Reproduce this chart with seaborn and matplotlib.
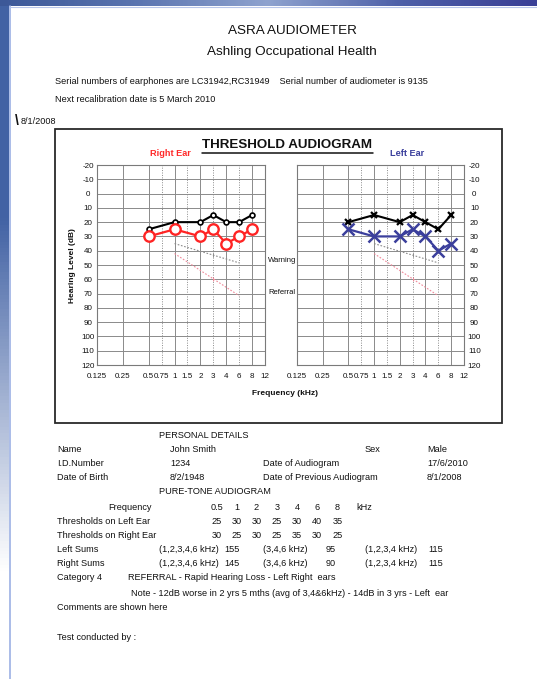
import numpy as np
import matplotlib
matplotlib.use("Agg")
import matplotlib.pyplot as plt
from matplotlib.patches import Rectangle
from matplotlib.colors import LinearSegmentedColormap, to_rgb
import seaborn as sns

# thresholds in dB HL at each test frequency (kHz)
freqs = [0.5, 1, 2, 3, 4, 6, 8]
right_now = [30, 25, 30, 25, 35, 30, 25]
right_prev = [25, 20, 20, 15, 20, 20, 15]
left_now = [25, 30, 30, 25, 30, 40, 35]
left_prev = [20, 15, 20, 15, 20, 25, 15]

# warning / referral limits (same on both ears)
limit_freqs = [1, 6]
warning_db = [35, 48.5]
referral_db = [42, 71.5]
mark_freq = [3]
warning_mark = [43]
referral_mark = [59.5]

octave_ticks = [0.125, 0.25, 0.5, 1, 2, 4, 8]
half_ticks = [0.75, 1.5, 3, 6, 12]
db_ticks = list(range(-20, 130, 10))

# audiometer x axis: octaves with half-octave steps in between
scale_freqs = [2.0 ** -20, 0.125, 0.25, 0.5, 0.75, 1, 1.5, 2, 3, 4, 6, 8, 12, 2.0 ** 20]
scale_pos = [-17, 0, 1, 2, 2.5, 3, 3.5, 4, 4.5, 5, 5.5, 6, 6.5, 22.9]
log_sf = np.log2(scale_freqs)


def to_pos(f):
    f = np.clip(np.asarray(f, dtype=float), 2.0 ** -20, 2.0 ** 20)
    return np.interp(np.log2(f), log_sf, scale_pos)


def from_pos(p):
    return 2.0 ** np.interp(np.asarray(p, dtype=float), scale_pos, log_sf)


sns.set_theme(style="white")
plt.rcParams['font.family'] = ['Liberation Sans', 'DejaVu Sans']
plt.rcParams['text.color'] = '#111111'

W, H = 537, 679
fig = plt.figure(figsize=(W / 100, H / 100), dpi=100)
fig.patch.set_facecolor('white')


def put(x, y, s, **kw):
    kw.setdefault('va', 'center')
    kw.setdefault('fontsize', 6.6)
    fig.text(x / W, 1 - y / H, s, **kw)


def ax_rect(x0, y0, x1, y1):
    return [x0 / W, 1 - y1 / H, (x1 - x0) / W, (y1 - y0) / H]


# page border (blue slide edge)
bg = fig.add_axes([0, 0, 1, 1], zorder=-5)
bg.set_xlim(0, W)
bg.set_ylim(H, 0)
bg.axis('off')
top_cmap = LinearSegmentedColormap.from_list(
    'top', ['#3c5898', '#5a74b0', '#8fa3cf', '#4d5fa8', '#3a3f96'])
bg.imshow(np.linspace(0, 1, 200)[None, :], cmap=top_cmap, aspect='auto',
          extent=(0, W, 6, 0))
side = np.ones((200, 1, 4))
side[:, 0, :3] = to_rgb('#4262a4')
side[:, 0, 3] = np.clip(np.linspace(1.6, -0.3, 200), 0, 1)
bg.imshow(side, aspect='auto', extent=(0, 9, H, 6))
bg.plot([9.5, 9.5], [6, H], color='#9cb0e4', lw=1.2)
bg.plot([9.5, W], [6.5, 6.5], color='#b8c6ea', lw=0.8)

# header
put(292, 31, "ASRA AUDIOMETER", ha='center', fontsize=9.7)
put(292, 52, "Ashling Occupational Health", ha='center', fontsize=9.7)
put(55, 82, "Serial numbers of earphones are LC31942,RC31949    Serial number of audiometer is 9135")
put(55, 99, "Next recalibration date is 5 March 2010")
put(15, 121, "\\", fontsize=10, fontweight='bold')
put(21, 121, "8/1/2008")

# chart frame
fig.add_artist(Rectangle((55 / W, 1 - 423 / H), (502 - 55) / W, (423 - 129) / H,
                         transform=fig.transFigure, fill=False, ec='#2a2a2a', lw=1.3))

put(287.5, 145.5, "THRESHOLD AUDIOGRAM", ha='center', fontsize=9.6,
    fontweight='bold')
fig.add_artist(plt.Line2D([202 / W, 373 / W], [1 - 153 / H, 1 - 153 / H],
                          color='#111111', lw=1.1))
put(170, 154, "Right Ear", ha='center', fontsize=6.6, fontweight='bold', color='#ff2a2a')
put(407, 154, "Left Ear", ha='center', fontsize=6.6, fontweight='bold', color='#3b3f9c')

ax_r = fig.add_axes(ax_rect(97, 165, 265, 365))
ax_l = fig.add_axes(ax_rect(297, 165, 464, 365))

panels = [
    (ax_r, right_now, right_prev, '#ff2424', 'o', 'left'),
    (ax_l, left_now, left_prev, '#3b3f9c', 'x', 'right'),
]

for ax, now, prev, col, mk, yside in panels:
    sns.lineplot(x=limit_freqs, y=warning_db, ax=ax, color='#8c8c8c', lw=0.8,
                 ls=(0, (1.5, 1.5)), estimator=None, sort=False)
    sns.lineplot(x=limit_freqs, y=referral_db, ax=ax, color='#f08a9a', lw=0.8,
                 ls=(0, (1.5, 1.5)), estimator=None, sort=False)
    ax.plot(mark_freq, warning_mark, marker='|', ms=3, mew=0.7, color='#8c8c8c', ls='none')
    ax.plot(mark_freq, referral_mark, marker='|', ms=3, mew=0.7, color='#f08a9a', ls='none')

    if mk == 'o':
        sns.lineplot(x=freqs, y=prev, ax=ax, color='black', lw=1.5, marker='o',
                     ms=3.5, mfc='white', mec='black', mew=1.2,
                     estimator=None, sort=False, zorder=4)
        sns.lineplot(x=freqs, y=now, ax=ax, color=col, lw=1.6, marker='o',
                     ms=7.5, mfc='white', mec=col, mew=1.7,
                     estimator=None, sort=False, zorder=5)
    else:
        sns.lineplot(x=freqs, y=prev, ax=ax, color='black', lw=1.5, marker='x',
                     ms=5, mec='black', mew=1.6,
                     estimator=None, sort=False, zorder=4)
        sns.lineplot(x=freqs, y=now, ax=ax, color=col, lw=1.6, marker='x',
                     ms=8, mec=col, mew=1.8,
                     estimator=None, sort=False, zorder=5)

    ax.set_xscale('function', functions=(to_pos, from_pos))
    ax.set_xlim(0.125, 12)
    ax.set_ylim(120, -20)
    ax.set_xticks(octave_ticks)
    ax.set_xticklabels([f"{v:g}" for v in octave_ticks])
    ax.set_xticks(half_ticks, minor=True)
    ax.set_xticklabels([f"{v:g}" for v in half_ticks], minor=True)
    ax.set_yticks(db_ticks)
    ax.set_yticklabels([str(v) for v in db_ticks])
    ax.set_xlabel('')
    ax.set_ylabel('')

    ax.grid(which='major', axis='both', color='#8a8a8a', lw=0.7, ls='-')
    ax.grid(which='minor', axis='x', color='#8a8a8a', lw=0.7, ls=(0, (1, 1.5)))
    ax.tick_params(axis='x', which='both', length=0, pad=6, labelsize=5.8,
                   labelcolor='#111111')
    if yside == 'left':
        ax.tick_params(axis='y', length=0, pad=6.5, labelsize=5.8, labelcolor='#111111')
    else:
        ax.yaxis.tick_right()
        ax.tick_params(axis='y', length=0, pad=7.5, labelsize=5.8, labelcolor='#111111')
    for lbl in ax.get_yticklabels():
        lbl.set_ha('center')
    for sp in ax.spines.values():
        sp.set_color('#7a7a7a')
        sp.set_linewidth(0.8)
    ax.set_facecolor('white')

put(268, 261, "Warning", fontsize=5.5)
put(268, 293, "Referral", fontsize=5.5)
put(285, 393, "Frequency (kHz)", ha='center', fontsize=6, fontweight='bold')
fig.text(72 / W, 1 - 266 / H, "Hearing Level (dB)", rotation=90, ha='center',
         va='center', fontsize=6, fontweight='bold')

# personal details / pure tone table
put(159, 435, "PERSONAL DETAILS")
put(57, 449, "Name")
put(170, 449, "John Smith")
put(365, 449, "Sex")
put(427, 449, "Male")
put(57, 463, "I.D.Number")
put(170, 463, "1234")
put(263, 463, "Date of Audiogram")
put(427, 463, "17/6/2010")
put(57, 478, "Date of Birth")
put(170, 478, "8/2/1948")
put(263, 478, "Date of Previous Audiogram")
put(427, 478, "8/1/2008")
put(159, 492, "PURE-TONE AUDIOGRAM")

col_x = [217, 236.5, 256.5, 277, 297, 317, 337.5]
put(108, 507, "Frequency")
for cx, f in zip(col_x, freqs):
    put(cx, 507, f"{f:g}", ha='center')
put(356, 507, "kHz")
put(57, 521, "Thresholds on Left Ear")
for cx, v in zip(col_x, left_now):
    put(cx, 521, str(v), ha='center')
put(57, 536, "Thresholds on Right Ear")
for cx, v in zip(col_x, right_now):
    put(cx, 536, str(v), ha='center')


def ear_sums(vals):
    d = dict(zip(freqs, vals))
    return (sum(d[k] for k in [1, 2, 3, 4, 6]), sum(d[k] for k in [3, 4, 6]),
            sum(d[k] for k in [1, 2, 3, 4]))


for yy, name, vals in [(550, "Left Sums", left_now), (564, "Right Sums", right_now)]:
    s1, s2, s3 = ear_sums(vals)
    put(57, yy, name)
    put(159, yy, "(1,2,3,4,6 kHz)")
    put(224, yy, str(s1))
    put(263, yy, "(3,4,6 kHz)")
    put(326, yy, str(s2))
    put(365, yy, "(1,2,3,4 kHz)")
    put(428, yy, str(s3))

put(57, 578, "Category 4")
put(128, 578, "REFERRAL - Rapid Hearing Loss - Left Right  ears")
put(131, 593, "Note - 12dB worse in 2 yrs 5 mths (avg of 3,4&6kHz) - 14dB in 3 yrs - Left  ear")
put(57, 607, "Comments are shown here")
put(57, 637, "Test conducted by :")

fig.savefig("out.png", dpi=100)
